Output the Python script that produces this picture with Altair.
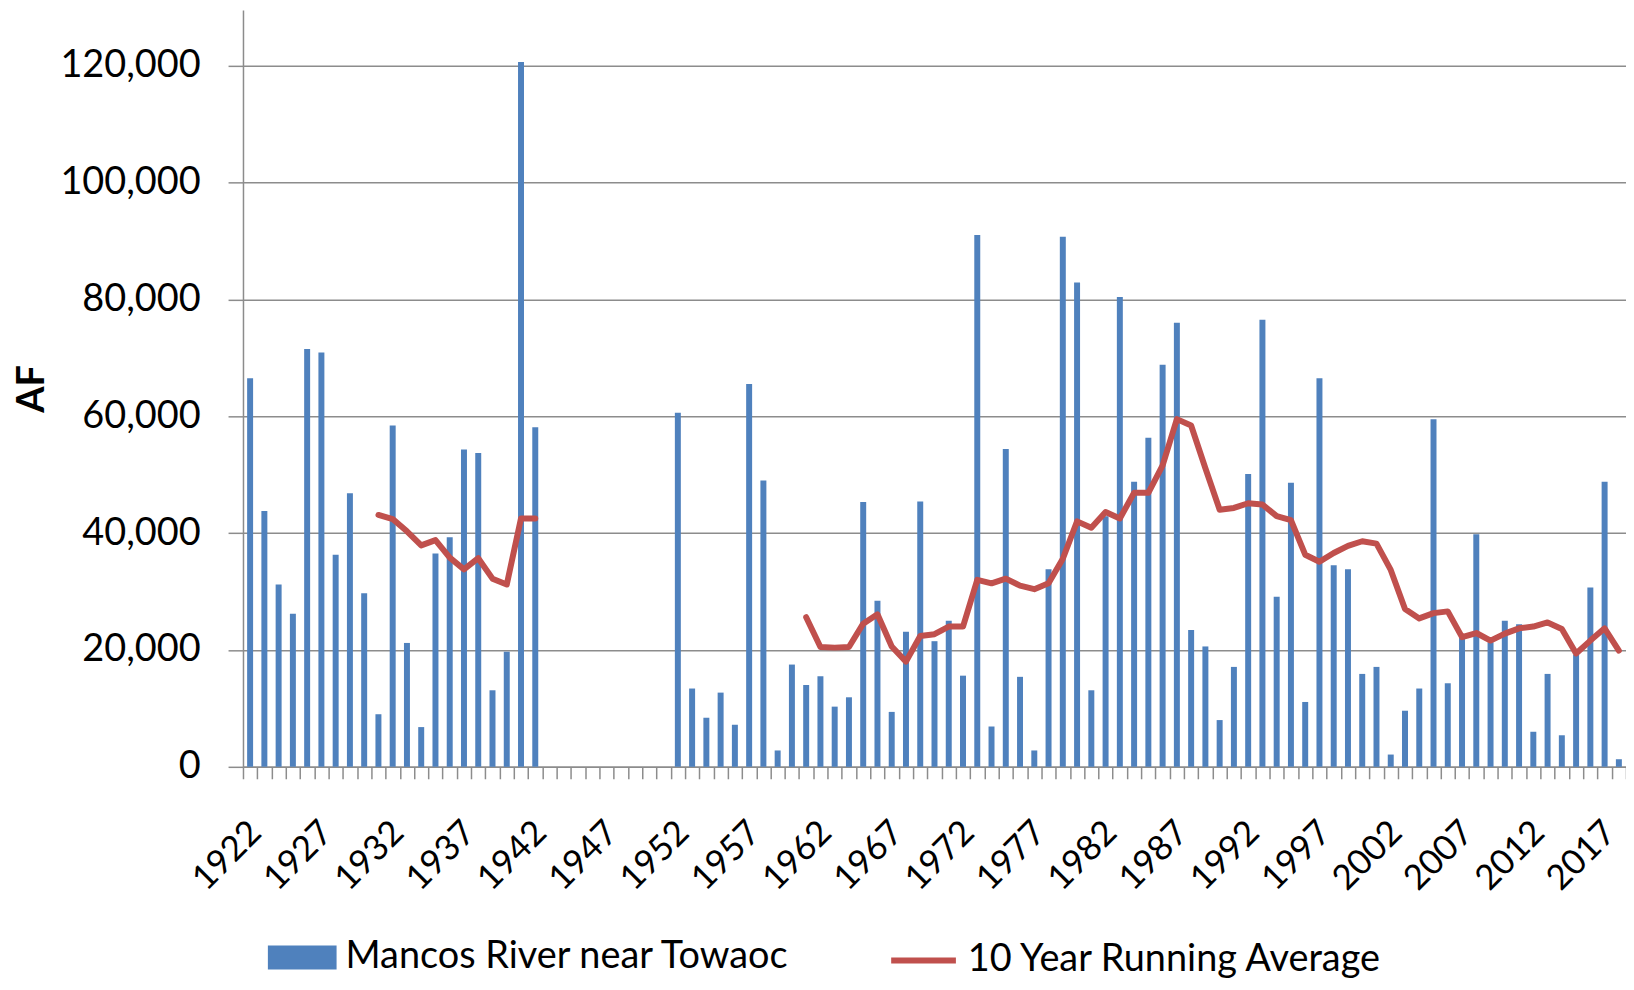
import altair as alt
import pandas as pd

# ---------------- data ----------------
years = list(range(1922, 2019))

flow = [
    66500, 43800, 31200, 26200, 71500, 70900, 36300, 46800, 29700, 9000,   # 1922-1931
    58400, 21200, 6800, 36500, 39300, 54300, 53700, 13100, 19700, 120600,  # 1932-1941
    58100,                                                                  # 1942
    None, None, None, None, None, None, None, None, None,                   # 1943-1951
    60600, 13400, 8400, 12700, 7200, 65500, 49000, 2800, 17500, 14000,     # 1952-1961
    15500, 10300, 11900, 45300, 28400, 9400, 23100, 45400, 21500, 25000,   # 1962-1971
    15600, 91000, 6900, 54400, 15400, 2800, 33800, 90700, 82900, 13100,    # 1972-1981
    42900, 80400, 48800, 56300, 68800, 76000, 23400, 20600, 8000, 17100,   # 1982-1991
    50100, 76500, 29100, 48600, 11100, 66500, 34500, 33800, 15900, 17100,  # 1992-2001
    2100, 9600, 13400, 59500, 14300, 22500, 39800, 21300, 25000, 24400,    # 2002-2011
    6000, 15900, 5400, 19200, 30700, 48800, 1300,                          # 2012-2018
]

avg_years_early = list(range(1931, 1943))
avg_early = [43100, 42400, 40300, 37900, 38800, 35800, 33800, 35700, 32200, 31200,
             42500, 42500]

avg_years_late = list(range(1961, 2019))
avg_late = [
    25600, 20500, 20400, 20500, 24500, 26100, 20600, 18000, 22400, 22700,  # 1961-1970
    24000, 24000, 32000, 31400, 32200, 31000, 30400, 31400, 35600, 42000,  # 1971-1980
    40900, 43600, 42500, 46900, 46900, 51600, 59500, 58400, 51100, 44000,  # 1981-1990
    44300, 45100, 44900, 42900, 42200, 36300, 35100, 36600, 37800, 38600,  # 1991-2000
    38200, 33700, 27000, 25400, 26300, 26600, 22200, 22900, 21600, 22800,  # 2001-2010
    23700, 24000, 24700, 23600, 19400, 21600, 23700, 19900,                # 2011-2018
]

y_ticks = [0, 20000, 40000, 60000, 80000, 100000, 120000]

BAR_NAME = "Mancos River near Towaoc"
LINE_NAME = "10 Year Running Average"

# ---------------- tables ----------------
bars_df = pd.DataFrame({"Year": years, "AF": flow})
bars_df = bars_df.dropna()
bars_df["Series"] = BAR_NAME

line_df = pd.DataFrame({
    "Year": avg_years_early + avg_years_late,
    "AF": avg_early + avg_late,
    "Segment": ["early"] * len(avg_years_early) + ["late"] * len(avg_years_late),
})
line_df["Series"] = LINE_NAME

# ---------------- style ----------------
FONT = "Lato"
GRAY = "#8c8c8c"
BLUE = "#4f81bd"
RED = "#c0504d"

x_enc = alt.X(
    "Year:O",
    scale=alt.Scale(domain=years, paddingInner=0, paddingOuter=0),
    axis=alt.Axis(
        title=None,
        labelExpr="(datum.value - 1922) % 5 == 0 ? datum.label : ''",
        labelAngle=-45,
        labelAlign="right",
        labelBaseline="middle",
        labelFont=FONT,
        labelFontSize=35,
        labelColor="black",
        labelPadding=48,
        labelOffset=5,
        labelOverlap=False,
        tickBand="extent",
        tickSize=12,
        tickColor=GRAY,
        tickWidth=1.5,
        domainColor=GRAY,
        domainWidth=1.5,
        grid=False,
    ),
)

y_enc = alt.Y(
    "AF:Q",
    scale=alt.Scale(domain=[0, 129500], nice=False),
    axis=alt.Axis(
        title="AF",
        values=y_ticks,
        format=",d",
        labelFont=FONT,
        labelFontSize=38,
        labelColor="black",
        labelPadding=28,
        tickSize=15,
        tickColor=GRAY,
        tickWidth=1.5,
        domainColor=GRAY,
        domainWidth=1.5,
        grid=True,
        gridColor=GRAY,
        gridWidth=1.5,
        titleFont=FONT,
        titleFontSize=38,
        titleFontWeight="bold",
        titleColor="black",
        titlePadding=8,
    ),
)

bars = alt.Chart(bars_df).mark_bar(size=6).encode(
    x=x_enc,
    y=y_enc,
    fill=alt.Fill(
        "Series:N",
        scale=alt.Scale(domain=[BAR_NAME], range=[BLUE]),
        legend=alt.Legend(
            title=None,
            orient="none",
            legendX=25,
            legendY=917,
            padding=0,
            symbolType="M-1,-0.348H1V0.348H-1Z",
            symbolSize=4761,
            symbolStrokeWidth=0,
            labelFont=FONT,
            labelFontSize=38,
            labelColor="black",
            labelOffset=9,
            labelLimit=0,
        ),
    ),
)

line = alt.Chart(line_df).mark_line(strokeWidth=6, strokeJoin="round", strokeCap="round").encode(
    x=x_enc,
    y=y_enc,
    detail="Segment:N",
    stroke=alt.Stroke(
        "Series:N",
        scale=alt.Scale(domain=[LINE_NAME], range=[RED]),
        legend=alt.Legend(
            title=None,
            orient="none",
            legendX=648,
            legendY=919,
            padding=0,
            symbolType="stroke",
            symbolSize=4225,
            symbolStrokeWidth=6,
            labelFont=FONT,
            labelFontSize=38,
            labelColor="black",
            labelOffset=9,
            labelLimit=0,
        ),
    ),
)

chart = alt.layer(bars, line).properties(
    width=1389,
    height=760,
    autosize=alt.AutoSizeParams(type="none"),
    padding={"left": 236, "top": 0, "right": 0, "bottom": 214},
).configure_view(stroke="transparent")

chart.save("out.html", embed_options={"renderer": "svg", "actions": False})
